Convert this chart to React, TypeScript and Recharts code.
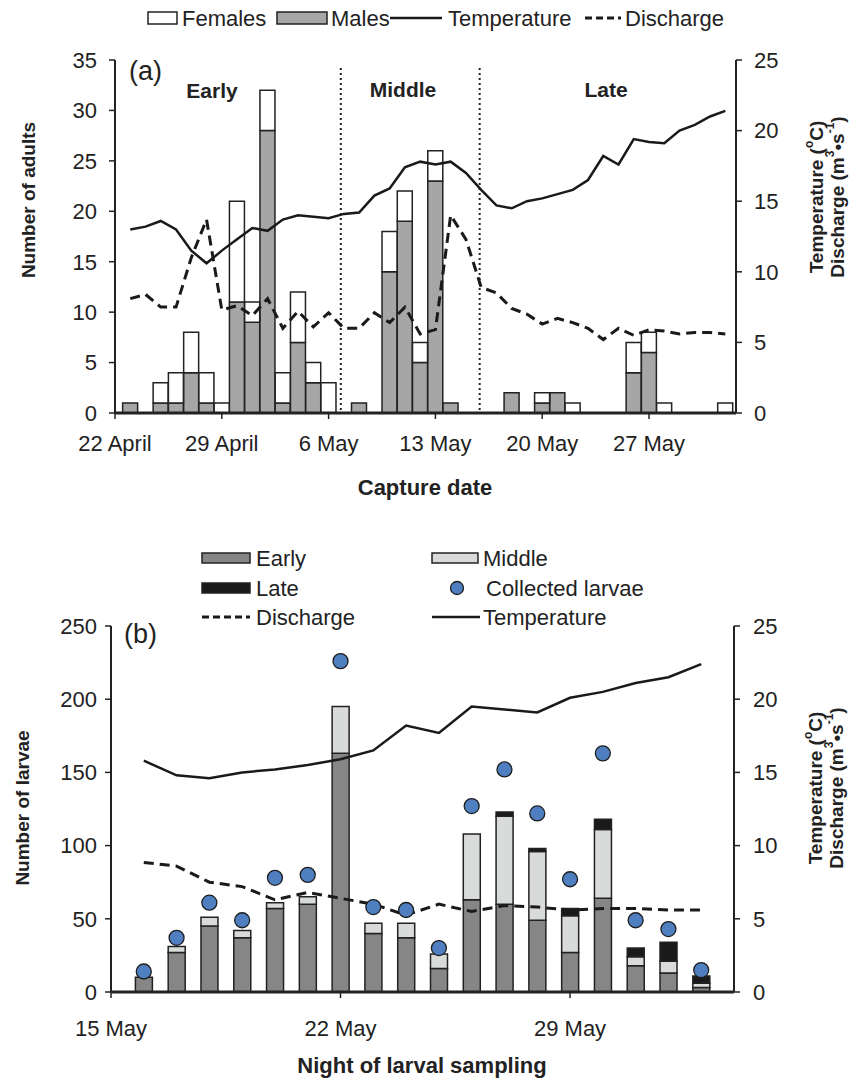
import React from 'react';
import { ComposedChart, Bar, Line, Scatter, XAxis, YAxis, ReferenceLine } from 'recharts';

const FONT = '"Liberation Sans", Arial, Helvetica, sans-serif';
const INK = '#222222';

// (a) adults, day 0 = 22 April
const adultDay = [1, 2, 3, 4, 5, 6, 7, 8, 9, 10, 11, 12, 13, 14, 15, 16, 17, 18, 19, 20, 21, 22, 23, 24, 25, 26, 27, 28, 29, 30, 31, 32, 33, 34, 35, 36, 37, 38, 39, 40];
const adultMales = [1, 0, 1, 1, 4, 1, 0, 11, 9, 28, 1, 7, 3, 0, 0, 1, 0, 14, 19, 5, 23, 1, 0, 0, 0, 2, 0, 1, 2, 0, 0, 0, 0, 4, 6, 0, 0, 0, 0, 0];
const adultFemales = [0, 0, 2, 3, 4, 3, 1, 10, 2, 4, 3, 5, 2, 3, 0, 0, 0, 4, 3, 2, 3, 0, 0, 0, 0, 0, 0, 1, 0, 1, 0, 0, 0, 3, 2, 1, 0, 0, 0, 1];
const adultTemperature = [13.0, 13.2, 13.6, 13.0, 11.5, 10.6, 11.5, 12.3, 13.1, 12.9, 13.7, 14.0, 13.9, 13.8, 14.1, 14.2, 15.4, 15.9, 17.4, 17.8, 17.6, 17.8, 17.0, 15.8, 14.7, 14.5, 15.0, 15.2, 15.5, 15.8, 16.5, 18.2, 17.6, 19.4, 19.2, 19.1, 20.0, 20.4, 21.0, 21.4];
const adultDischarge = [8.1, 8.4, 7.5, 7.5, 11.0, 13.7, 7.3, 7.6, 6.9, 8.1, 6.0, 7.2, 6.1, 7.1, 6.0, 6.0, 7.1, 6.4, 7.5, 5.6, 5.9, 14.0, 12.3, 8.9, 8.5, 7.4, 7.0, 6.3, 6.7, 6.4, 6.0, 5.2, 6.0, 5.5, 5.9, 5.8, 5.6, 5.7, 5.7, 5.6];
const adultTicks = [0, 7, 14, 21, 28, 35];
const adultTickLabels = ['22 April', '29 April', '6 May', '13 May', '20 May', '27 May'];
const periodBreaks = [14.8, 23.9];

// (b) larvae, day 0 = 15 May
const larvalDay = [1, 2, 3, 4, 5, 6, 7, 8, 9, 10, 11, 12, 13, 14, 15, 16, 17, 18];
const earlyLarvae = [10, 27, 45, 37, 57, 60, 163, 40, 37, 16, 63, 60, 49, 27, 64, 18, 13, 3];
const middleLarvae = [0, 4, 6, 5, 4, 5, 32, 7, 10, 10, 45, 60, 47, 25, 47, 6, 8, 3];
const lateLarvae = [0, 0, 0, 0, 0, 0, 0, 0, 0, 0, 0, 3, 2, 5, 7, 6, 13, 5];
const collectedLarvae = [14, 37, 61, 49, 78, 80, 226, 58, 56, 30, 127, 152, 122, 77, 163, 49, 43, 15];
const larvalTemperature = [15.8, 14.8, 14.6, 15.0, 15.2, 15.5, 15.9, 16.5, 18.2, 17.7, 19.5, 19.3, 19.1, 20.1, 20.5, 21.1, 21.5, 22.4];
const larvalDischarge = [8.85, 8.6, 7.5, 7.2, 6.3, 6.8, 6.4, 6.0, 5.25, 6.0, 5.5, 5.9, 5.8, 5.6, 5.7, 5.7, 5.6, 5.6];
const larvalTicks = [0, 7, 14];
const larvalTickLabels = ['15 May', '22 May', '29 May'];

const adultData = adultDay.map((day, i) => ({
  day,
  males: adultMales[i],
  females: adultFemales[i],
  temperature: adultTemperature[i],
  discharge: adultDischarge[i],
}));

const larvalData = larvalDay.map((day, i) => ({
  day,
  early: earlyLarvae[i],
  middle: middleLarvae[i],
  late: lateLarvae[i],
  collected: collectedLarvae[i],
  temperature: larvalTemperature[i],
  discharge: larvalDischarge[i],
}));

const tickStyle = { fill: INK, fontSize: 22, fontFamily: FONT };

const Dot = (props: any) => {
  const { cx, cy } = props;
  if (cx == null || cy == null) return null;
  return <circle cx={cx} cy={cy} r={7.5} fill="#4f7fc0" stroke="#1e1e1e" strokeWidth={1.3} />;
};

function RightTitle({ x, y }: { x: number; y: number }) {
  return (
    <g fontFamily={FONT} fontWeight="bold" fontSize={19} fill={INK}>
      <text transform={`translate(${x},${y}) rotate(-90)`} textAnchor="middle" dominantBaseline="central">
        Temperature (<tspan fontSize={12} dy={-7}>o</tspan><tspan dy={7}>C)</tspan>
      </text>
      <text transform={`translate(${x + 21},${y}) rotate(-90)`} textAnchor="middle" dominantBaseline="central">
        Discharge (m<tspan fontSize={12} dy={-7}>3</tspan><tspan dy={7}>•s</tspan>
        <tspan fontSize={12} dy={-7}>-1</tspan><tspan dy={7}>)</tspan>
      </text>
    </g>
  );
}

export default function App() {
  return (
    <div style={{ position: 'absolute', left: 0, top: 0, width: 854, height: 1078, background: '#fff' }}>
      <div style={{ position: 'absolute', left: 0, top: 0 }}>
        <ComposedChart width={854} height={500} data={adultData} margin={{ top: 60, right: 58, bottom: 57, left: 55 }}>
          <XAxis
            dataKey="day"
            type="number"
            domain={[0, 40.7]}
            ticks={adultTicks}
            tickFormatter={(v: number) => adultTickLabels[adultTicks.indexOf(v)]}
            height={30}
            tick={tickStyle}
            tickSize={6}
            tickMargin={16}
            axisLine={{ stroke: INK, strokeWidth: 3 }}
            tickLine={{ stroke: INK, strokeWidth: 1.5 }}
          />
          <YAxis
            yAxisId="left"
            domain={[0, 35]}
            ticks={[0, 5, 10, 15, 20, 25, 30, 35]}
            width={60}
            tick={tickStyle}
            tickSize={6}
            tickMargin={12}
            axisLine={{ stroke: INK, strokeWidth: 2 }}
            tickLine={{ stroke: INK, strokeWidth: 1.5 }}
          />
          <YAxis
            yAxisId="right"
            orientation="right"
            domain={[0, 25]}
            ticks={[0, 5, 10, 15, 20, 25]}
            width={60}
            tick={tickStyle}
            tickSize={6}
            tickMargin={12}
            axisLine={{ stroke: INK, strokeWidth: 2 }}
            tickLine={{ stroke: INK, strokeWidth: 1.5 }}
          />
          <Bar yAxisId="left" dataKey="males" stackId="a" barSize={15} fill="#a6a6a6" stroke={INK} strokeWidth={1.5} isAnimationActive={false} />
          <Bar yAxisId="left" dataKey="females" stackId="a" barSize={15} fill="#ffffff" stroke={INK} strokeWidth={1.5} isAnimationActive={false} />
          {periodBreaks.map((x) => (
            <ReferenceLine
              key={x}
              yAxisId="left"
              segment={[{ x, y: 34.2 }, { x, y: 0 }]}
              stroke={INK}
              strokeWidth={2}
              strokeDasharray="2 3"
            />
          ))}
          <Line yAxisId="right" type="linear" dataKey="temperature" stroke="#1a1a1a" strokeWidth={2.5} dot={false} isAnimationActive={false} />
          <Line yAxisId="right" type="linear" dataKey="discharge" stroke="#1a1a1a" strokeWidth={3} strokeDasharray="10 6" dot={false} isAnimationActive={false} />
        </ComposedChart>
      </div>

      <div style={{ position: 'absolute', left: 0, top: 530 }}>
        <ComposedChart width={854} height={548} data={larvalData} margin={{ top: 96, right: 60, bottom: 56, left: 51 }}>
          <XAxis
            dataKey="day"
            type="number"
            domain={[0, 19]}
            ticks={larvalTicks}
            tickFormatter={(v: number) => larvalTickLabels[larvalTicks.indexOf(v)]}
            height={30}
            tick={tickStyle}
            tickSize={6}
            tickMargin={22}
            axisLine={{ stroke: INK, strokeWidth: 3 }}
            tickLine={{ stroke: INK, strokeWidth: 1.5 }}
          />
          <YAxis
            yAxisId="left"
            domain={[0, 250]}
            ticks={[0, 50, 100, 150, 200, 250]}
            width={60}
            tick={tickStyle}
            tickSize={6}
            tickMargin={8}
            axisLine={{ stroke: INK, strokeWidth: 2 }}
            tickLine={{ stroke: INK, strokeWidth: 1.5 }}
          />
          <YAxis
            yAxisId="right"
            orientation="right"
            domain={[0, 25]}
            ticks={[0, 5, 10, 15, 20, 25]}
            width={60}
            tick={tickStyle}
            tickSize={6}
            tickMargin={13}
            axisLine={{ stroke: INK, strokeWidth: 2 }}
            tickLine={{ stroke: INK, strokeWidth: 1.5 }}
          />
          <Bar yAxisId="left" dataKey="early" stackId="b" barSize={17} fill="#868686" stroke={INK} strokeWidth={1.5} isAnimationActive={false} />
          <Bar yAxisId="left" dataKey="middle" stackId="b" barSize={17} fill="#d9dada" stroke={INK} strokeWidth={1.5} isAnimationActive={false} />
          <Bar yAxisId="left" dataKey="late" stackId="b" barSize={17} fill="#1a1a1a" stroke={INK} strokeWidth={1.5} isAnimationActive={false} />
          <Scatter yAxisId="left" dataKey="collected" shape={<Dot />} isAnimationActive={false} />
          <Line yAxisId="right" type="linear" dataKey="temperature" stroke="#1a1a1a" strokeWidth={2.5} dot={false} isAnimationActive={false} />
          <Line yAxisId="right" type="linear" dataKey="discharge" stroke="#1a1a1a" strokeWidth={3} strokeDasharray="10 6" dot={false} isAnimationActive={false} />
        </ComposedChart>
      </div>

      {/* titles, annotations and legends */}
      <svg width={854} height={1078} style={{ position: 'absolute', left: 0, top: 0, pointerEvents: 'none' }}>
        <g fontFamily={FONT} fill={INK}>
          {/* legend (a) */}
          <rect x={148} y={12} width={29} height={12} fill="#fff" stroke={INK} strokeWidth={1.5} />
          <text x={182} y={26} fontSize={22}>Females</text>
          <rect x={277} y={12} width={50} height={12} fill="#a6a6a6" stroke={INK} strokeWidth={1.5} />
          <text x={331} y={26} fontSize={22}>Males</text>
          <line x1={390} y1={18} x2={442} y2={18} stroke="#1a1a1a" strokeWidth={2.5} />
          <text x={448} y={26} fontSize={22}>Temperature</text>
          <line x1={585} y1={18} x2={621} y2={18} stroke="#1a1a1a" strokeWidth={3} strokeDasharray="7 4" />
          <text x={625} y={26} fontSize={22}>Discharge</text>

          <text x={129} y={80} fontSize={27}>(a)</text>
          <text x={212} y={98} fontSize={21} fontWeight="bold" textAnchor="middle">Early</text>
          <text x={403} y={97} fontSize={21} fontWeight="bold" textAnchor="middle">Middle</text>
          <text x={606} y={97} fontSize={21} fontWeight="bold" textAnchor="middle">Late</text>

          <text transform="translate(28,200) rotate(-90)" fontSize={19} fontWeight="bold" textAnchor="middle" dominantBaseline="central">Number of adults</text>
          <text x={425} y={495} fontSize={22} fontWeight="bold" textAnchor="middle">Capture date</text>
          <RightTitle x={816} y={197} />

          {/* legend (b) */}
          <rect x={202} y={553} width={48} height={10} fill="#868686" stroke={INK} strokeWidth={1.5} />
          <text x={256} y={566} fontSize={22}>Early</text>
          <rect x={432} y={553} width={46} height={10} fill="#d9dada" stroke={INK} strokeWidth={1.5} />
          <text x={483} y={566} fontSize={22}>Middle</text>
          <rect x={202} y={583} width={48} height={10} fill="#1a1a1a" stroke={INK} strokeWidth={1.5} />
          <text x={256} y={596} fontSize={22}>Late</text>
          <circle cx={457} cy={588} r={6.5} fill="#4f7fc0" stroke="#1e1e1e" strokeWidth={1.3} />
          <text x={486} y={596} fontSize={22}>Collected larvae</text>
          <line x1={202} y1={617} x2={250} y2={617} stroke="#1a1a1a" strokeWidth={3} strokeDasharray="7 4" />
          <text x={256} y={625} fontSize={22}>Discharge</text>
          <line x1={432} y1={617} x2={480} y2={617} stroke="#1a1a1a" strokeWidth={2.5} />
          <text x={483} y={625} fontSize={22}>Temperature</text>

          <text x={124} y={643} fontSize={27}>(b)</text>
          <text transform="translate(22,808) rotate(-90)" fontSize={19} fontWeight="bold" textAnchor="middle" dominantBaseline="central">Number of larvae</text>
          <text x={422} y={1073} fontSize={22} fontWeight="bold" textAnchor="middle">Night of larval sampling</text>
          <RightTitle x={815} y={788} />
        </g>
      </svg>
    </div>
  );
}
